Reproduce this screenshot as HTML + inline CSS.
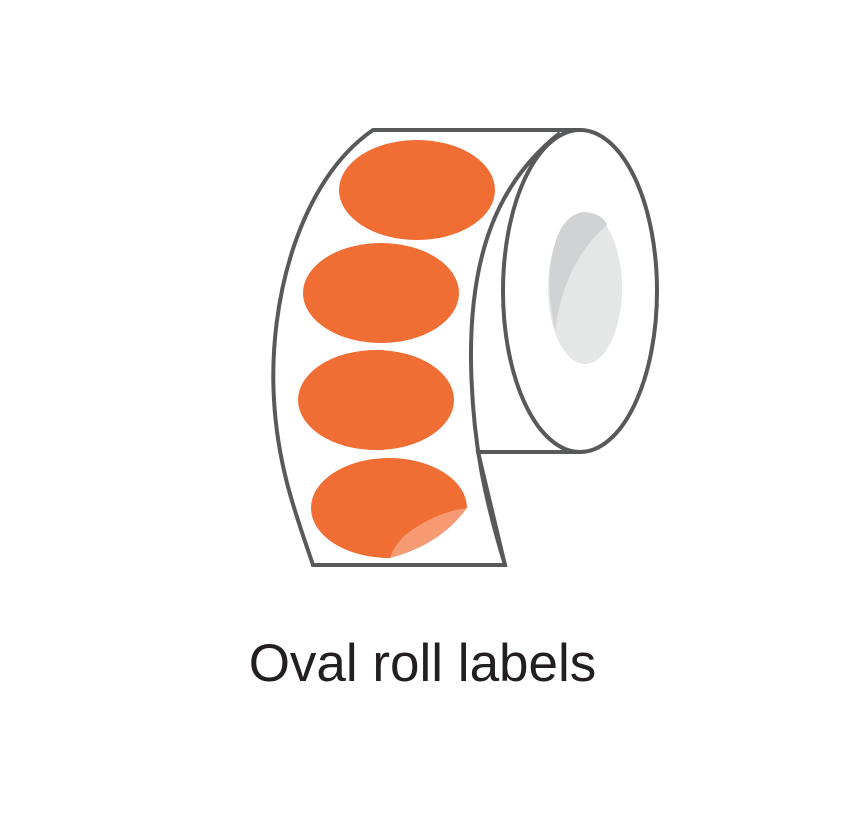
<!DOCTYPE html>
<html><head><style>
html,body{margin:0;padding:0;background:#fff;}
body{width:865px;height:836px;position:relative;overflow:hidden;}
.t{position:absolute;left:0;width:845px;top:633px;text-align:center;font-family:"Liberation Sans",sans-serif;font-size:53px;color:#231f20;}
</style></head><body>
<svg width="865" height="836" style="position:absolute;left:0;top:0">
<g stroke="#58595b" stroke-width="4" fill="#fff">
<path d="M373,130 L580,130 L580,452 L478,452 L505,565 L313,565 C298,520 278,470 274,400 C268,300 300,180 373,130 Z"/>
<path d="M505,565 C485,500 472,440 471,360 C470,250 500,180 560,133" fill="none"/>
<ellipse cx="580" cy="291" rx="77" ry="161"/>
</g>
<ellipse cx="585" cy="288" rx="37" ry="76" fill="#e5e6e6"/>
<path d="M585,212 Q603,214 607,225 Q565,260 555,330 Q548,300 550,270 Q556,214 585,212Z" fill="#d1d2d3"/>
<g fill="#f06d33">
<ellipse cx="417" cy="190" rx="78" ry="50"/>
<ellipse cx="381" cy="293" rx="78" ry="50"/>
<ellipse cx="376" cy="400" rx="78" ry="50"/>
<path d="M467,508 A78,50 0 1 0 390,558 Z"/>
</g>
<path d="M467,508 L437,558 L390,558 Z" fill="#fff"/>
<path d="M467,508 Q420,515 390,558 Q420,540 467,508Z" fill="#f06d33"/>
<path d="M467,508 Q435,512 405,535 Q393,547 390,558 Q440,545 467,508Z" fill="#f59a72"/>
</svg>
<div class="t">Oval roll labels</div>
</body></html>
